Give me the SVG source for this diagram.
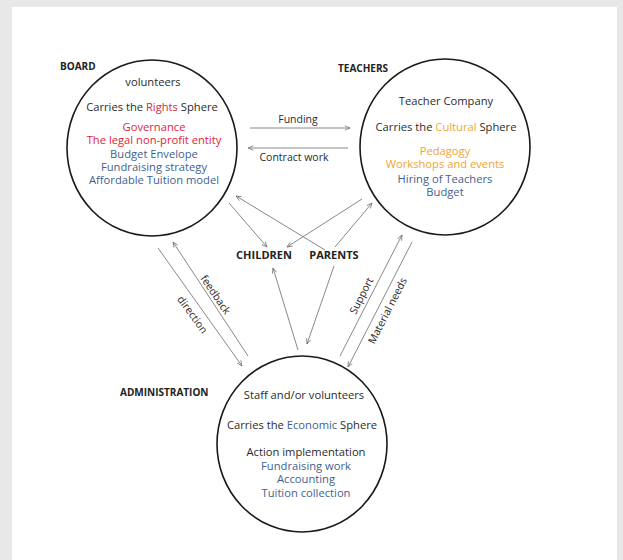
<svg xmlns="http://www.w3.org/2000/svg" width="623" height="560" viewBox="0 0 623 560">
<defs>
<marker id="ah" viewBox="0 0 8 8" refX="7.5" refY="4" markerWidth="6" markerHeight="6" orient="auto" markerUnits="userSpaceOnUse">
<path d="M0.5,1 L7.5,4 L0.5,7" fill="none" stroke="#707070" stroke-width="1"/>
</marker>
<style>
.bg{fill:#e8e8e8}
.panel{fill:#ffffff}
.node ellipse{fill:none;stroke:#1a1a1a;stroke-width:1.6}
text{font-family:"Open Sans","Liberation Sans",sans-serif;font-size:11.2px;fill:#2a2a2a;text-anchor:middle}
.lbl{font-size:10px;font-weight:bold;fill:#222;text-anchor:start}
.mid{font-size:11px;font-weight:bold;fill:#222}
.red{fill:#e0233c}
.blue{fill:#3f5f8f}
.org{fill:#f2a531}
.conn line{stroke:#7a7a7a;stroke-width:0.9;marker-end:url(#ah)}
.clab{font-size:10.5px;fill:#2a2a2a}
</style>
</defs>
<rect class="bg" x="0" y="0" width="623" height="560"/>
<rect class="panel" x="12" y="7" width="605" height="553"/>

<g id="board" class="node">
<ellipse cx="152" cy="148" rx="85" ry="88"/>
<text class="lbl" x="60" y="70">BOARD</text>
<text x="153" y="86">volunteers</text>
<text x="152" y="111">Carries the <tspan class="red">Rights</tspan> Sphere</text>
<text class="red" x="154" y="131">Governance</text>
<text class="red" x="154" y="144">The legal non-profit entity</text>
<text class="blue" x="154" y="158">Budget Envelope</text>
<text class="blue" x="154" y="171">Fundraising strategy</text>
<text class="blue" x="154" y="184">Affordable Tuition model</text>
</g>

<g id="teachers" class="node">
<ellipse cx="445" cy="147" rx="85" ry="88"/>
<text class="lbl" x="338" y="72">TEACHERS</text>
<text x="446" y="105">Teacher Company</text>
<text x="446" y="131">Carries the <tspan class="org">Cultural</tspan> Sphere</text>
<text class="org" x="445" y="155">Pedagogy</text>
<text class="org" x="445" y="168">Workshops and events</text>
<text class="blue" x="445" y="183">Hiring of Teachers</text>
<text class="blue" x="445" y="196">Budget</text>
</g>

<g id="administration" class="node">
<ellipse cx="302" cy="444" rx="85" ry="88"/>
<text class="lbl" x="120" y="396">ADMINISTRATION</text>
<text x="304" y="399">Staff and/or volunteers</text>
<text x="302" y="429">Carries the <tspan class="blue">Economic</tspan> Sphere</text>
<text x="306" y="456">Action implementation</text>
<text class="blue" x="306" y="470">Fundraising work</text>
<text class="blue" x="306" y="483">Accounting</text>
<text class="blue" x="306" y="497">Tuition collection</text>
</g>

<g id="children">
<text class="mid" x="264" y="259">CHILDREN</text>
</g>
<g id="parents">
<text class="mid" x="334" y="259">PARENTS</text>
</g>

<g id="connectors" class="conn">
<line x1="250" y1="128" x2="350" y2="128"/>
<line x1="348" y1="148" x2="248" y2="148"/>
<line x1="229" y1="203" x2="267" y2="247"/>
<line x1="325" y1="250" x2="236" y2="196"/>
<line x1="362" y1="199" x2="287" y2="247"/>
<line x1="335" y1="247" x2="372" y2="203"/>
<line x1="158" y1="248" x2="242" y2="366"/>
<line x1="248" y1="356" x2="173" y2="242"/>
<line x1="340" y1="356" x2="402" y2="235"/>
<line x1="412" y1="242" x2="348" y2="367"/>
<line x1="298" y1="350" x2="273" y2="268"/>
<line x1="334" y1="266" x2="307" y2="344"/>
<text class="clab" x="298" y="123">Funding</text>
<text class="clab" x="294" y="161">Contract work</text>
<text class="clab" transform="translate(215,295) rotate(56)" x="0" y="3">feedback</text>
<text class="clab" transform="translate(192,315) rotate(54)" x="0" y="3">direction</text>
<text class="clab" transform="translate(362,296) rotate(-63)" x="0" y="3">Support</text>
<text class="clab" transform="translate(388,311) rotate(-63)" x="0" y="3">Material needs</text>
</g>
</svg>
